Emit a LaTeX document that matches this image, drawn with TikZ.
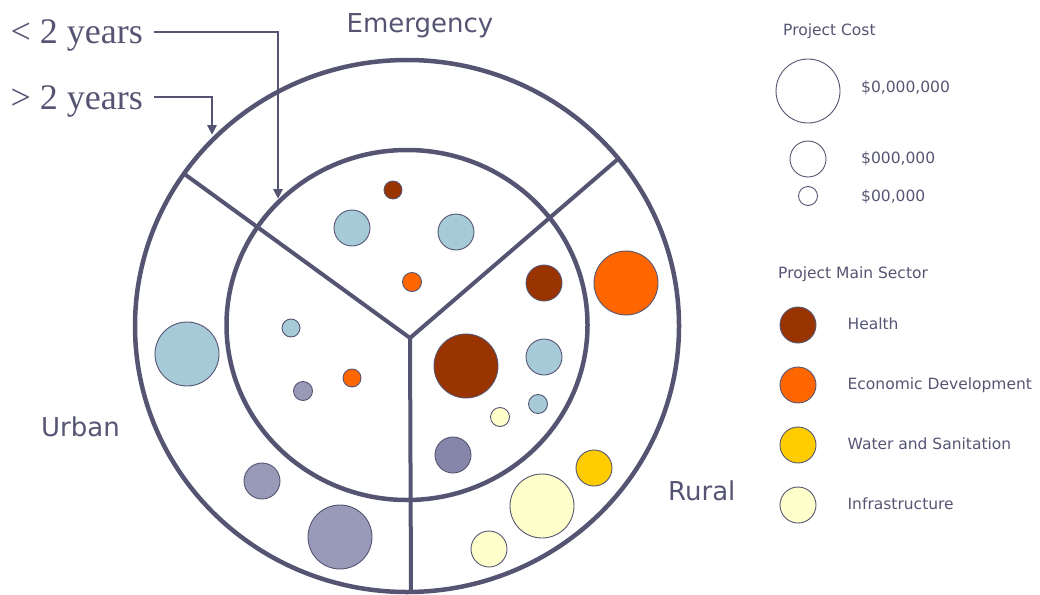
\documentclass[tikz,border=0pt]{standalone}
\usepackage{fontspec}
\setmainfont{DejaVu Sans}
\newfontfamily\yrsfont{Liberation Serif}
\usepackage{tikz}
\usetikzlibrary{positioning,arrows.meta}
\definecolor{ink}{RGB}{85,85,115}
\definecolor{health}{RGB}{153,51,0}
\definecolor{econ}{RGB}{255,102,0}
\definecolor{water}{RGB}{255,204,0}
\definecolor{infra}{RGB}{255,255,204}
\definecolor{sky}{RGB}{166,202,216}
\definecolor{lav}{RGB}{153,153,184}
\definecolor{lavdark}{RGB}{134,134,170}
\tikzstyle{ring}=[draw=ink, line width=4.5pt]
\tikzstyle{wall}=[draw=ink, line width=4pt]
\tikzstyle{blob}=[draw=ink, line width=0.9pt]
\tikzstyle{yrs}=[text=ink, font=\yrsfont\fontsize{36}{40}\selectfont, inner sep=0pt, text height=30pt, text depth=6pt]
\tikzstyle{zone}=[text=ink, font=\fontsize{26}{30}\selectfont, inner sep=0pt]
\tikzstyle{lbl}=[text=ink, font=\fontsize{15.5}{18}\selectfont, inner sep=0pt]
\tikzstyle{seclbl}=[lbl, text height=12pt, text depth=3pt]
\tikzstyle{keydot}=[circle, draw=ink, line width=0.9pt, inner sep=0pt]
\tikzstyle{lead}=[draw=ink, line width=2.5pt, -{Triangle[width=9pt,length=10pt]}]

\begin{document}
\begin{tikzpicture}[x=1pt,y=-1pt]
\useasboundingbox (0,0) rectangle (1040,594);

% rings
\draw[ring] (407,326) ellipse [x radius=272pt, y radius=266pt];
\draw[ring] (407,325) ellipse [x radius=180.5pt, y radius=175pt];

% sector walls
\coordinate (hub) at (410,338);
\coordinate (wallL) at (183,173);
\coordinate (wallR) at (618,159);
\coordinate (wallB) at (411,592);
\draw[wall] (wallL) -- (hub) -- (wallR);
\draw[wall] (hub) -- (wallB);

% projects
\foreach \cx/\cy/\r/\col in {393/190/9/health, 352/228/18/sky, 456/232/18/sky, 412/282/9.5/econ,
  291/328/9/sky, 352/378/9/econ, 303/391/9.5/lav,
  544/283/18/health, 466/366/32/health, 544/357/18/sky, 538/404/9.5/sky, 500/417/9.5/infra, 453/455/18/lavdark,
  187/354/32/sky, 262/481/18/lav, 340/537/32/lav,
  626/283/32/econ, 594/468/18/water, 542/506/32/infra, 489/549/18/infra}
  \draw[blob, fill=\col] (\cx,\cy) circle (\r pt);

\node[zone, anchor=base] (emerg) at (420,33) {Emergency};
\node[zone, anchor=base west] (urban) at (41,436) {Urban};
\node[zone, anchor=base west] (rural) at (668,500) {Rural};

% duration arrows
\node[yrs, anchor=east] (lt) at (143,32) {< 2 years};
\node[yrs, anchor=east] (gt) at (143,97) {> 2 years};
\coordinate (lttip) at (278,199);
\coordinate (gttip) at (212,135);
\draw[lead, shorten <=11pt] (lt.east) -| (lttip);
\draw[lead, shorten <=11pt] (gt.east) -| (gttip);

% legend: cost
\node[lbl, anchor=base west] (costhd) at (783,36) {Project Cost};
\node[keydot, minimum size=64pt] (cbig) at (808,91) {};
\node[keydot, minimum size=36pt] (cmid) at (808,159) {};
\node[keydot, minimum size=19pt] (csml) at (808,196) {};
\node[lbl, anchor=base west] (cbigl) at (861,92) {\$0,000,000};
\node[lbl, anchor=base west] (cmidl) at (861,163) {\$000,000};
\node[lbl, anchor=base west] (csmll) at (861,201) {\$00,000};

% legend: sector
\node[lbl, anchor=base west] (sechd) at (778,278) {Project Main Sector};
\node[keydot, minimum size=36pt, fill=health] (khealth) at (798,325) {};
\node[keydot, minimum size=36pt, fill=econ] (kecon) at (798,385) {};
\node[keydot, minimum size=36pt, fill=water] (kwater) at (798,445) {};
\node[keydot, minimum size=36pt, fill=infra] (kinfra) at (798,505) {};
\node[seclbl, right=31pt of khealth] (lhealth) {Health};
\node[seclbl, right=31pt of kecon] (lecon) {Economic Development};
\node[seclbl, right=31pt of kwater] (lwater) {Water and Sanitation};
\node[seclbl, right=31pt of kinfra] (linfra) {Infrastructure};
\end{tikzpicture}
\end{document}
